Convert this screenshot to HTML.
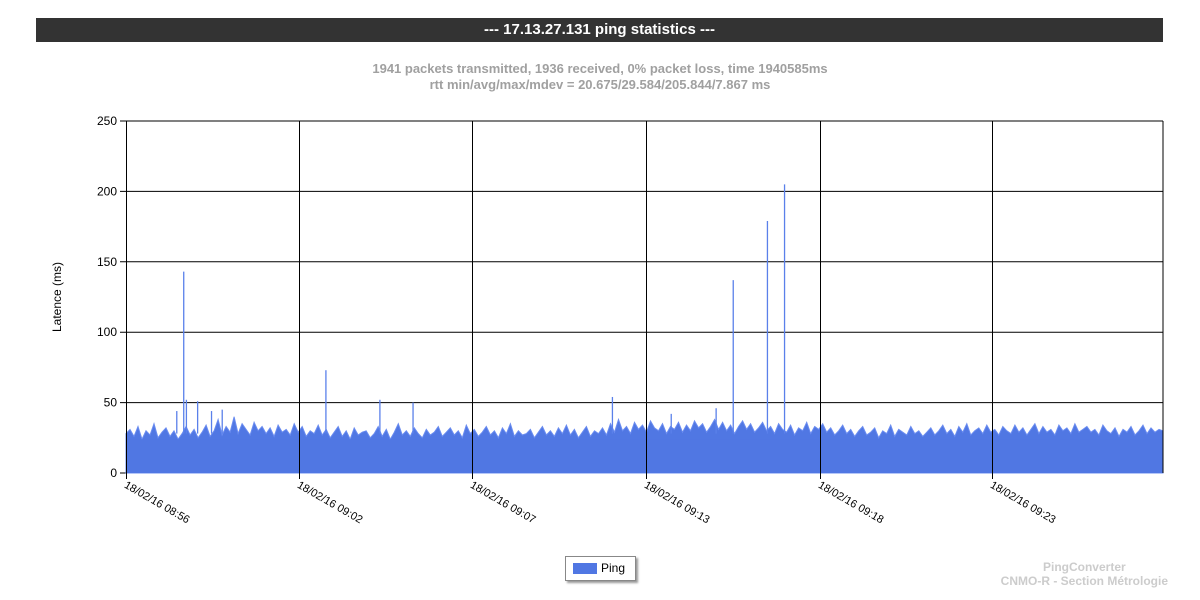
<!DOCTYPE html>
<html><head><meta charset="utf-8"><style>
body{margin:0;width:1200px;height:600px;background:#fff;font-family:"Liberation Sans",Arial,sans-serif;overflow:hidden;position:relative}
#title{position:absolute;left:36px;top:18px;width:1127px;height:24px;background:#333;color:#fff;font-weight:bold;font-size:15px;text-align:center;line-height:24px}
.sub{position:absolute;left:0;width:1200px;text-align:center;color:#a0a0a0;font-weight:bold;font-size:13px}
#legend{position:absolute;left:565px;top:556px;width:69px;height:23px;border:1px solid #888;background:#fff;box-shadow:2px 2px 2px #999;font-size:12px}
#credit{position:absolute;right:32px;top:560px;text-align:center;color:#ccc;font-weight:bold;font-size:12px;line-height:14px}
</style></head><body>
<div id="title">--- 17.13.27.131 ping statistics ---</div>
<div class="sub" style="top:61px">1941 packets transmitted, 1936 received, 0% packet loss, time 1940585ms</div>
<div class="sub" style="top:77px">rtt min/avg/max/mdev = 20.675/29.584/205.844/7.867 ms</div>
<svg id="chart" width="1200" height="600" style="position:absolute;left:0;top:0"></svg>
<div id="legend"><span style="position:absolute;left:7px;top:6px;width:24px;height:11px;background:#5077e3"></span><span style="position:absolute;left:35px;top:4px">Ping</span></div>
<div id="credit">PingConverter<br>CNMO-R - Section Métrologie</div>
<script>
const totalPings = 1941;
const yTicks = [0,50,100,150,200,250];
const xTickLabels = ["18/02/16 08:56","18/02/16 09:02","18/02/16 09:07","18/02/16 09:13","18/02/16 09:18","18/02/16 09:23"];
const xTickPings = [0,324,648,973,1298,1621];
const baseLatency = [
28,31,26,33,24,30,27,35,25,29,32,26,30,24,28,33,27,31,25,29,
34,26,30,38,27,33,29,40,28,35,31,27,36,30,33,28,32,26,34,29,
31,27,35,29,33,26,30,28,34,27,31,25,29,33,26,30,24,32,27,29,
30,25,28,33,26,31,24,29,35,27,30,26,32,28,25,31,27,29,33,26,
29,32,27,30,25,34,28,31,26,29,33,27,30,25,32,28,35,26,30,27,
28,31,25,29,33,27,30,26,32,28,34,27,31,25,29,33,26,30,28,32,
27,35,29,38,30,33,28,36,31,34,29,37,32,30,35,28,33,31,36,29,
34,30,37,32,35,29,33,38,31,36,30,34,28,33,37,31,35,29,32,36,
30,33,28,35,31,29,34,27,32,30,36,28,33,31,35,29,32,27,30,34,
28,31,26,30,33,27,29,32,25,30,28,34,26,31,29,27,33,28,30,26,
29,32,27,30,34,28,31,26,33,29,35,27,30,32,28,34,29,31,27,33,
30,28,34,29,32,27,31,35,28,33,29,31,27,34,30,32,28,35,29,31,
33,29,31,27,34,30,28,32,26,31,29,33,27,30,34,28,32,29,31,30];
const spikePings = [95,108,113,134,160,180,374,475,537,910,1020,1104,1136,1200,1232];
const spikeValues = [44,143,52,51,44,45,73,52,50,54,42,46,137,179,205];

const L=126,R=1163,T=121,B=473,NS="http://www.w3.org/2000/svg";
const svg=document.getElementById('chart');
const xs=i=>L+(R-L)*i/(totalPings-1);
const ys=v=>B-(B-T)*v/250;
function mk(t,a){const e=document.createElementNS(NS,t);for(const k in a)e.setAttribute(k,a[k]);svg.appendChild(e);return e;}
yTicks.forEach(v=>{
 const g=mk('line',{x1:L-6,x2:R,y1:ys(v),y2:ys(v),stroke:'#000','stroke-width':1});
 
 
 const t=mk('text',{x:L-9,y:ys(v)+4,'text-anchor':'end','font-size':12,'font-family':'Liberation Sans, sans-serif'});
 t.textContent=v;
 
 
});
let d='M'+L+','+B;
baseLatency.forEach((v,i)=>{d+=' L'+xs(i*(totalPings-1)/(baseLatency.length-1)).toFixed(1)+','+ys(v).toFixed(1);});
d+=' L'+R+','+B+' Z';
const area=mk('path',{d:d,fill:'#5077e3',stroke:'#6a8cf0','stroke-width':1});


const floor=mk('rect',{x:L,y:ys(24),width:R-L,height:B-ys(24),fill:'#5077e3'});


spikePings.forEach((p,i)=>{
 const s=mk('line',{x1:xs(p),x2:xs(p),y1:ys(28),y2:ys(spikeValues[i]),stroke:'#5a80ea','stroke-width':1.3});
 
 
});
xTickPings.forEach((p,i)=>{
 const x=Math.round(xs(p))+0.5;
 const g=mk('line',{x1:x,x2:x,y1:T,y2:B+6,stroke:'#000','stroke-width':1});
 
 
 const t=mk('text',{x:x-3,y:B+14,'font-size':11,'font-family':'Liberation Sans, sans-serif',transform:'rotate(30 '+(x-3)+' '+(B+14)+')'});
 t.textContent=xTickLabels[i];
 
 
});
const rb=mk('line',{x1:R,x2:R,y1:T,y2:B,stroke:'#000'});


const yl=mk('text',{x:61,y:297,'text-anchor':'middle','font-size':12,'font-family':'Liberation Sans, sans-serif',transform:'rotate(-90 61 297)'});
yl.textContent='Latence (ms)';


</script>
</body></html>
